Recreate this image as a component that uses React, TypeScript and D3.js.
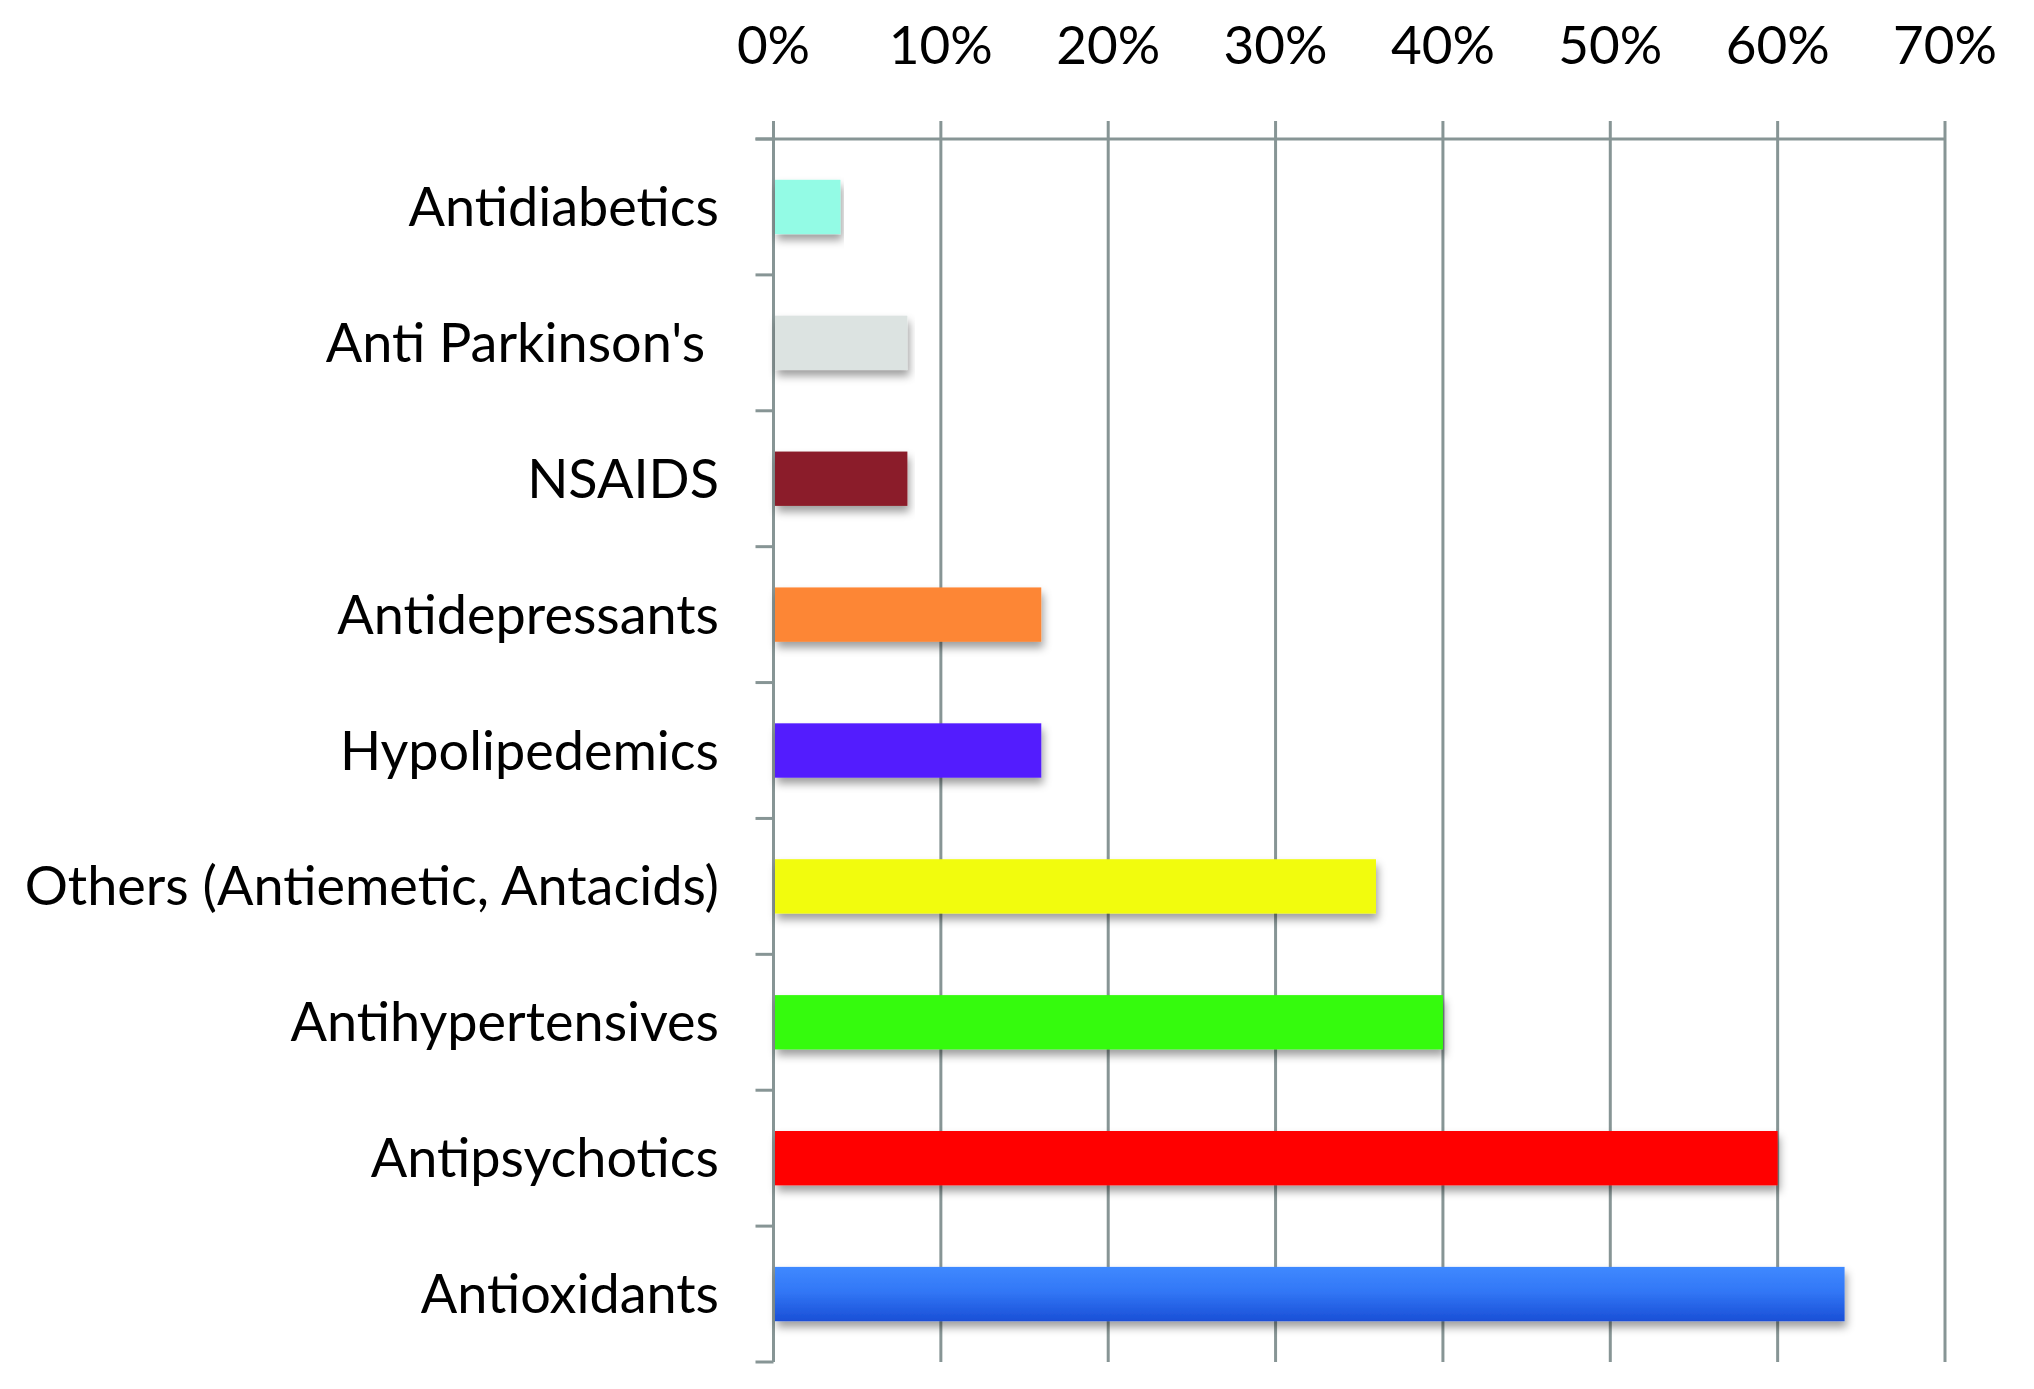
import React, { useEffect, useRef } from 'react';
import * as d3 from 'd3';

const categories = [
  'Antidiabetics',
  "Anti Parkinson's ",
  'NSAIDS',
  'Antidepressants',
  'Hypolipedemics',
  'Others (Antiemetic, Antacids)',
  'Antihypertensives',
  'Antipsychotics',
  'Antioxidants',
];
const values = [4, 8, 8, 16, 16, 36, 40, 60, 64];
const barColors = [
  '#93fbe5',
  '#dce3e1',
  '#8b1f2b',
  '#fd8635',
  '#521afe',
  '#f2fc11',
  '#35fb11',
  '#ff0000',
  'url(#blueGrad)',
];
const xTicks = [0, 10, 20, 30, 40, 50, 60, 70];

const WIDTH = 2034;
const HEIGHT = 1389;
const GRID = '#879595';

export default function App() {
  const svgRef = useRef<SVGSVGElement>(null);

  useEffect(() => {
    if (!svgRef.current) return;
    const svg = d3.select(svgRef.current);
    svg.selectAll('*').remove();

    const left = 773.5;
    const right = 1945;
    const top = 139;
    const bottom = 1362;

    const x = d3.scaleLinear().domain([0, 70]).range([left, right]);
    const y = d3.scaleBand<string>()
      .domain(categories)
      .range([top, bottom])
      .paddingInner(0.6)
      .paddingOuter(0.3);
    const step = (bottom - top) / categories.length;
    const boundaries = d3.range(categories.length + 1);

    const defs = svg.append('defs');
    const grad = defs.append('linearGradient')
      .attr('id', 'blueGrad')
      .attr('x1', 0).attr('y1', 0).attr('x2', 0).attr('y2', 1);
    grad.append('stop').attr('offset', '0%').attr('stop-color', '#3f89ff');
    grad.append('stop').attr('offset', '45%').attr('stop-color', '#3277f6');
    grad.append('stop').attr('offset', '100%').attr('stop-color', '#1a4fd6');

    const shadow = defs.append('filter')
      .attr('id', 'shadow')
      .attr('x', '-5%').attr('y', '-20%')
      .attr('width', '110%').attr('height', '170%');
    shadow.append('feDropShadow')
      .attr('dx', 2).attr('dy', 6)
      .attr('stdDeviation', 4)
      .attr('flood-color', '#000')
      .attr('flood-opacity', 0.38);

    // Grid lines
    const g = svg.append('g');
    g.selectAll('line.vgrid')
      .data(xTicks)
      .enter()
      .append('line')
      .attr('class', 'vgrid')
      .attr('x1', d => x(d))
      .attr('x2', d => x(d))
      .attr('y1', top - 18)
      .attr('y2', bottom)
      .attr('stroke', GRID)
      .attr('stroke-width', 3);

    // Top axis line
    g.append('line')
      .attr('x1', left - 18)
      .attr('x2', right)
      .attr('y1', top)
      .attr('y2', top)
      .attr('stroke', GRID)
      .attr('stroke-width', 3);

    // Category ticks on left
    g.selectAll('line.ytick')
      .data(boundaries)
      .enter()
      .append('line')
      .attr('class', 'ytick')
      .attr('x1', left - 18)
      .attr('x2', left)
      .attr('y1', d => top + d * step)
      .attr('y2', d => top + d * step)
      .attr('stroke', GRID)
      .attr('stroke-width', 3);

    // Bars
    svg.append('g')
      .selectAll('rect')
      .data(values)
      .enter()
      .append('rect')
      .attr('x', x(0) + 1.5)
      .attr('y', (d, i) => y(categories[i]) as number)
      .attr('width', d => x(d) - x(0) - 1.5)
      .attr('height', y.bandwidth())
      .attr('fill', (d, i) => barColors[i])
      .attr('filter', 'url(#shadow)');

    // X tick labels
    svg.append('g')
      .selectAll('text')
      .data(xTicks)
      .enter()
      .append('text')
      .attr('x', d => x(d))
      .attr('y', 64)
      .attr('text-anchor', 'middle')
      .attr('font-family', 'Lato, sans-serif')
      .attr('font-size', 53)
      .attr('fill', '#000')
      .text(d => `${d}%`);

    // Category labels
    svg.append('g')
      .selectAll('text')
      .data(categories)
      .enter()
      .append('text')
      .attr('x', 719)
      .attr('y', d => (y(d) as number) + y.bandwidth() / 2 + 19)
      .attr('text-anchor', 'end')
      .attr('font-family', 'Lato, sans-serif')
      .attr('font-size', 54)
      .attr('fill', '#000')
      .style('white-space', 'pre')
      .text(d => d);
  }, []);

  return (
    <svg
      ref={svgRef}
      width={WIDTH}
      height={HEIGHT}
      style={{ position: 'absolute', left: 0, top: 0, background: '#fff' }}
    />
  );
}
